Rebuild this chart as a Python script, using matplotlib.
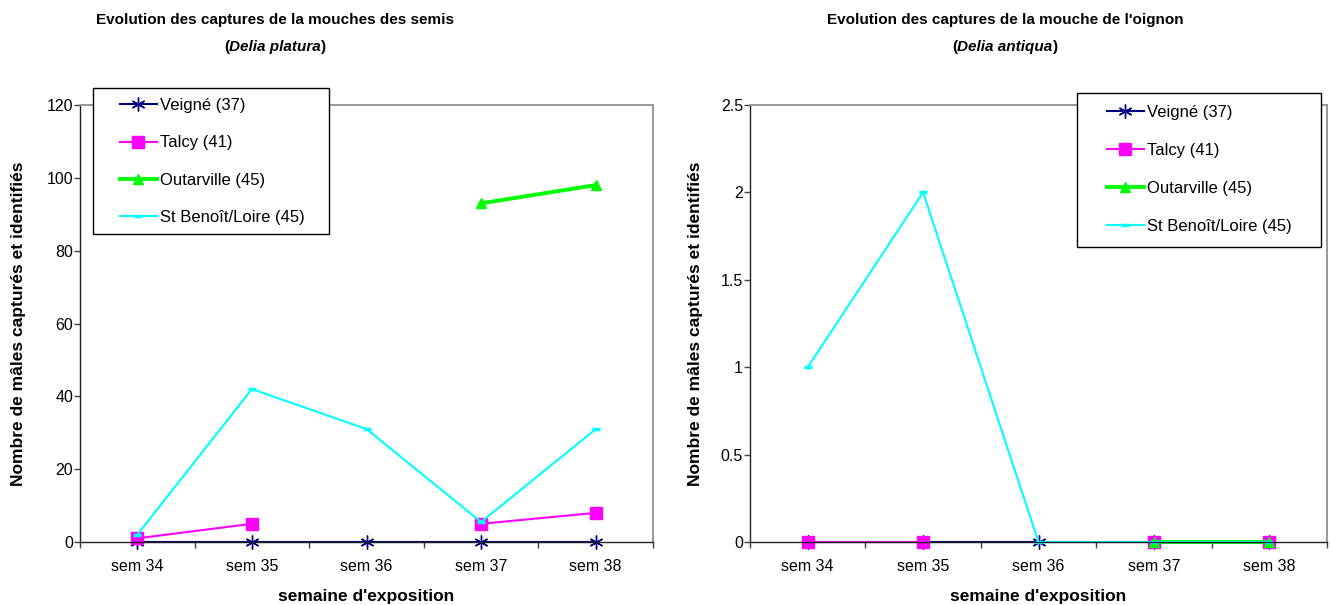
import numpy as np
import matplotlib
matplotlib.use("Agg")
import matplotlib.pyplot as plt
from matplotlib.patches import Rectangle
from matplotlib.ticker import FuncFormatter, FixedLocator

plt.rcParams['font.family'] = ['Liberation Sans', 'DejaVu Sans']

weeks = ["sem 34", "sem 35", "sem 36", "sem 37", "sem 38"]
series_names = ["Veigné (37)", "Talcy (41)", "Outarville (45)", "St Benoît/Loire (45)"]

# Delia platura
platura_veigne = [0, 0, 0, 0, 0]
platura_talcy = [1, 5, np.nan, 5, 8]
platura_outarville = [np.nan, np.nan, np.nan, 93, 98]
platura_stbenoit = [2, 42, 31, 5.5, 31]

# Delia antiqua
antiqua_veigne = [0, 0, 0, 0, 0]
antiqua_talcy = [0, 0, np.nan, 0, 0]
antiqua_outarville = [np.nan, np.nan, np.nan, 0, 0]
antiqua_stbenoit = [1, 2, 0, 0, 0]

W, H = 1332, 605
fig = plt.figure(figsize=(W / 100, H / 100), dpi=100)

TICK_FS = 11.5
LAB_FS = 12.5
TITLE_FS = 11
LEG_FS = 12

styles = [
    dict(color="#000080", lw=1.5, marker=(6, 2, 0), ms=10, mew=1.0, mec="#000080"),
    dict(color="#FF00FF", lw=1.5, marker="s", ms=8, mec="#FF00FF", mfc="#FF00FF"),
    dict(color="#00FF00", lw=2.8, marker="^", ms=7, mec="#00FF00", mfc="#00FF00"),
    dict(color="#00FFFF", lw=1.5, marker="_", ms=6, mew=2.5, mec="#00FFFF"),
]


def px(x0, y0, x1, y1):
    return [x0 / W, 1 - y1 / H, (x1 - x0) / W, (y1 - y0) / H]


title_parts = []


def make_panel(rect, data, ymax, ystep, fmt, title1, title2, tcx, ylab_x, leg_rect, leg_anchor,
               lspace):
    ax = fig.add_axes(px(*rect))
    x = np.arange(len(weeks))
    handles = []
    for vals, st, name in zip(data, styles, series_names):
        h, = ax.plot(x, vals, label=name, clip_on=False, **st)
        handles.append(h)
    ax.set_xlim(-0.5, len(weeks) - 0.5)
    ax.set_ylim(0, ymax)
    ax.set_yticks(np.arange(0, ymax + ystep / 2, ystep))
    ax.yaxis.set_major_formatter(FuncFormatter(fmt))
    ax.set_xticks(x)
    ax.set_xticklabels(weeks, fontsize=TICK_FS)
    ax.xaxis.set_minor_locator(FixedLocator(np.arange(-0.5, len(weeks), 1.0)))
    ax.tick_params(axis="x", which="major", length=0, pad=12)
    ax.tick_params(axis="x", which="minor", length=4, width=1, color="#404040", direction="out")
    ax.tick_params(axis="y", length=4, width=1, color="#404040", labelsize=TICK_FS, pad=1)
    for s in ("top", "right"):
        ax.spines[s].set_color("#909090")
        ax.spines[s].set_linewidth(1.3)
    for s in ("left", "bottom"):
        ax.spines[s].set_color("#202020")
        ax.spines[s].set_linewidth(1.0)
    ax.set_xlabel("semaine d'exposition", fontsize=LAB_FS, fontweight="bold", labelpad=11)
    ax.set_ylabel("Nombre de mâles capturés et identifiés", fontsize=LAB_FS, fontweight="bold")
    ax.yaxis.set_label_coords((ylab_x - rect[0]) / (rect[2] - rect[0]), 0.5)
    fig.text(tcx / W, 1 - 20 / H, title1, ha="center", va="center", fontsize=TITLE_FS,
             fontweight="bold")
    parts = [
        fig.text(0, 1 - 47 / H, "(", ha="left", va="center", fontsize=TITLE_FS, fontweight="bold"),
        fig.text(0, 1 - 47 / H, title2, ha="left", va="center", fontsize=TITLE_FS,
                 fontweight="bold", fontstyle="italic"),
        fig.text(0, 1 - 47 / H, ")", ha="left", va="center", fontsize=TITLE_FS, fontweight="bold"),
    ]
    title_parts.append((tcx, parts))
    # legend frame
    lx0, ly0, lx1, ly1 = leg_rect
    r = Rectangle((lx0 / W, 1 - ly1 / H), (lx1 - lx0) / W, (ly1 - ly0) / H,
                  transform=fig.transFigure, facecolor="white", edgecolor="black", lw=1.0,
                  clip_on=False, zorder=10)
    ax.add_artist(r)
    leg = ax.legend(handles=handles, loc="upper left",
                    bbox_to_anchor=(leg_anchor[0] / W, 1 - leg_anchor[1] / H),
                    bbox_transform=fig.transFigure, frameon=False, fontsize=LEG_FS,
                    borderpad=0, borderaxespad=0, labelspacing=lspace, handlelength=2.2,
                    handletextpad=0.2)
    leg.set_zorder(11)
    return ax


def fmt_int(v, p):
    return "%d" % v


def fmt_g(v, p):
    return "%g" % v


make_panel((80, 105, 653, 542),
           [platura_veigne, platura_talcy, platura_outarville, platura_stbenoit],
           120, 20, fmt_int,
           "Evolution des captures de la mouches des semis", "Delia platura", 275, 26,
           (93, 88, 329, 234), (120, 98), 1.34)
make_panel((750, 105, 1327, 542),
           [antiqua_veigne, antiqua_talcy, antiqua_outarville, antiqua_stbenoit],
           2.5, 0.5, fmt_g,
           "Evolution des captures de la mouche de l'oignon", "Delia antiqua", 1005, 703,
           (1077, 93, 1321, 247), (1107, 105), 1.37)

# arrange the mixed-style second title lines centred on tcx
fig.canvas.draw()
renderer = fig.canvas.get_renderer()
for tcx, parts in title_parts:
    widths = [p.get_window_extent(renderer).width for p in parts]
    total = sum(widths)
    xstart = tcx - total / 2
    for p, w in zip(parts, widths):
        p.set_x(xstart / W)
        xstart += w

fig.savefig("out.png", dpi=100)
